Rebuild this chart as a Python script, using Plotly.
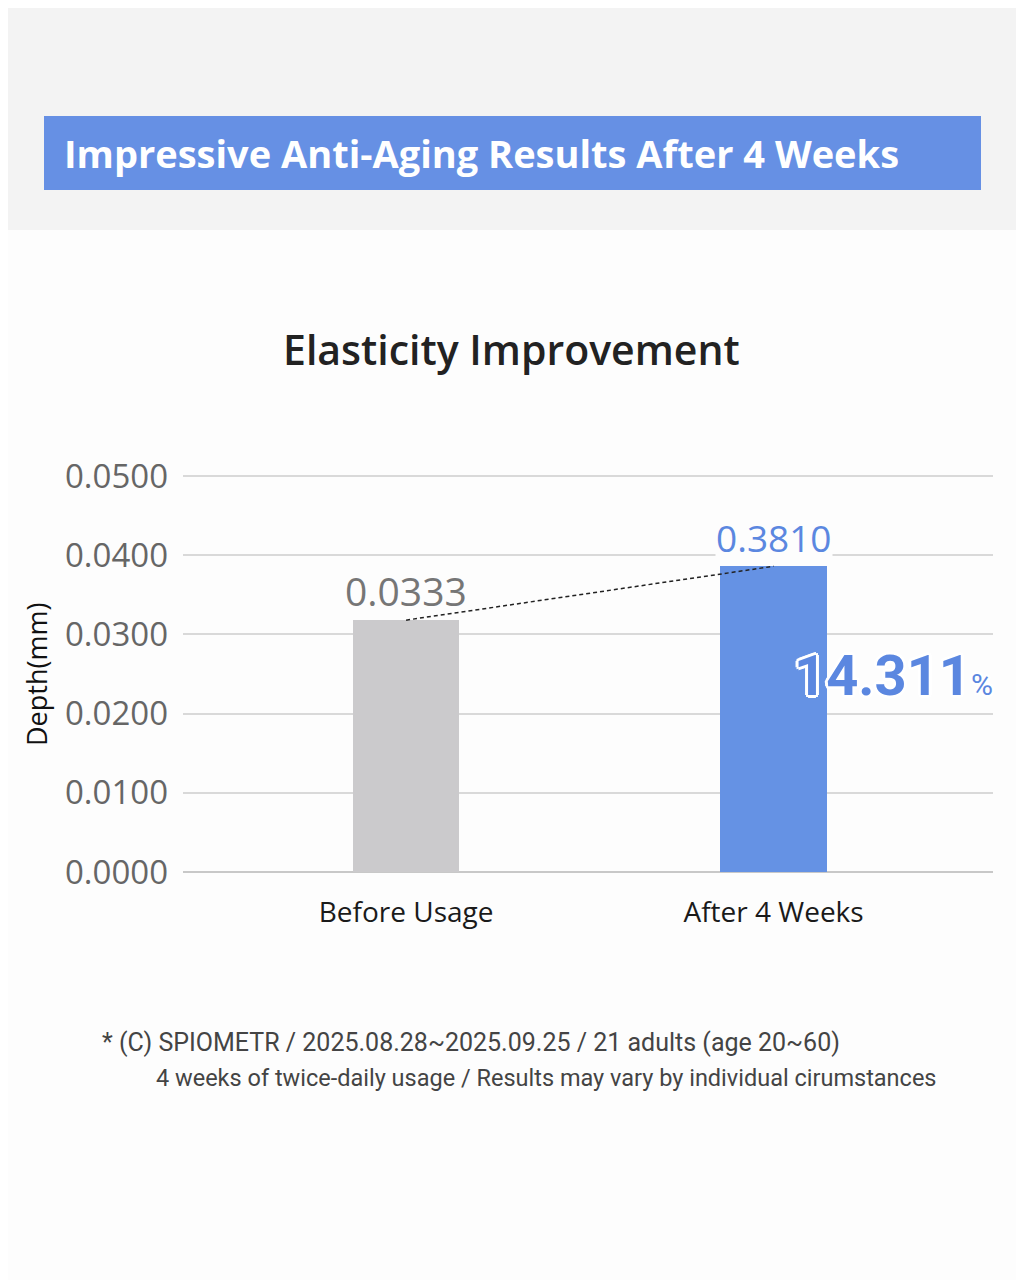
import plotly.graph_objects as go

# ---- data ----
categories = ["Before Usage", "After 4 Weeks"]
depth_values = [0.0318, 0.0386]
value_labels = ["0.0333", "0.3810"]
improvement_label = "14.311"
y_ticks = [0.0, 0.01, 0.02, 0.03, 0.04, 0.05]
y_tick_text = ["0.0000", "0.0100", "0.0200", "0.0300", "0.0400", "0.0500"]

W, H = 1024, 1280
OFF = 8  # page body margin
def px(x):
    return (x - OFF) / W
def py(y):
    return 1 - (y - OFF) / H

x_pos = [0, 1]
bar_colors = ["#cbcacc", "#6592e4"]
label_colors = ["#767676", "#5b87e0"]

fig = go.Figure()
fig.add_trace(go.Bar(
    x=x_pos, y=depth_values, width=0.29,
    marker=dict(color=bar_colors, line=dict(width=0)),
    hoverinfo="skip", showlegend=False,
))
fig.add_trace(go.Scatter(
    x=x_pos, y=depth_values, mode="lines",
    line=dict(color="#222222", width=1.5, dash="4px,3px"),
    hoverinfo="skip", showlegend=False,
))

annotations = []
for i in range(2):
    annotations.append(dict(
        x=x_pos[i], y=depth_values[i], xref="x", yref="y",
        text=value_labels[i], showarrow=False, yanchor="bottom",
        yshift=2,
        font=dict(family="Open Sans", size=39 if i == 0 else 37, color=label_colors[i]),
        bgcolor="rgba(253,253,253,1)" if i == 1 else "rgba(0,0,0,0)",
        borderpad=0,
    ))

# big improvement label
annotations.append(dict(
    x=px(893), y=py(676), xref="paper", yref="paper",
    text=f"<b>{improvement_label}</b><span style='font-size:30px'>%</span>",
    showarrow=False, xanchor="center", yanchor="middle",
    font=dict(family="Roboto", size=56, color="#5b87e0",
              shadow="2px 2px 0 #fff, -2px -2px 0 #fff, 2px -2px 0 #fff, -2px 2px 0 #fff, 0 3px 0 #fff, 0 -3px 0 #fff, 3px 0 0 #fff, -3px 0 0 #fff"),
))

# header title
annotations.append(dict(
    x=px(62), y=py(153), xref="paper", yref="paper",
    text="Impressive Anti-Aging Results After 4 Weeks",
    showarrow=False, xanchor="left", yanchor="middle",
    font=dict(family="Open Sans", size=38, color="#ffffff", weight=700),
))
# chart title
annotations.append(dict(
    x=px(511), y=py(349), xref="paper", yref="paper",
    text="Elasticity Improvement",
    showarrow=False, xanchor="center", yanchor="middle",
    font=dict(family="Open Sans", size=41, color="#222222", weight=600),
))
# y axis title
annotations.append(dict(
    x=px(36), y=py(675), xref="paper", yref="paper",
    text="Depth(mm)", textangle=-90,
    showarrow=False, xanchor="center", yanchor="middle",
    font=dict(family="Open Sans", size=27, color="#111111"),
))
# footnotes
annotations.append(dict(
    x=px(100), y=py(1042), xref="paper", yref="paper",
    text="* (C) SPIOMETR / 2025.08.28~2025.09.25 / 21 adults (age 20~60)",
    showarrow=False, xanchor="left", yanchor="middle",
    font=dict(family="Roboto", size=25, color="#444444"),
))
annotations.append(dict(
    x=px(154), y=py(1078), xref="paper", yref="paper",
    text="4 weeks of twice-daily usage / Results may vary by individual cirumstances",
    showarrow=False, xanchor="left", yanchor="middle",
    font=dict(family="Roboto", size=23.5, color="#444444"),
))

shapes = [
    dict(type="rect", xref="paper", yref="paper", x0=-0.01, x1=1.01, y0=py(230), y1=1.01,
         fillcolor="#f3f3f3", line=dict(width=0), layer="below"),
    dict(type="rect", xref="paper", yref="paper", x0=px(44), x1=px(981), y0=py(190), y1=py(116),
         fillcolor="#6690e4", line=dict(width=0), layer="below"),
]

Y_TOP = 0.0505
px_per_unit = (872 - 476) / 0.05

fig.update_layout(
    width=W, height=H,
    margin=dict(l=0, r=0, t=0, b=0),
    paper_bgcolor="#fdfdfd", plot_bgcolor="rgba(0,0,0,0)",
    annotations=annotations, shapes=shapes,
    bargap=0,
    xaxis=dict(
        domain=[px(183), px(993)],
        range=[-0.607, 1.597],
        tickmode="array", tickvals=x_pos, ticktext=categories,
        showgrid=False, zeroline=False, showline=False, ticks="",
        tickfont=dict(family="Open Sans", size=28, color="#1a1a1a", weight=500),
        ticklabelstandoff=21,
        automargin=False, fixedrange=True,
    ),
    yaxis=dict(
        domain=[py(872), py(872 - Y_TOP * px_per_unit)],
        range=[0, Y_TOP],
        tickmode="array", tickvals=y_ticks, ticktext=y_tick_text,
        showgrid=True, gridcolor="#d9d9d9", gridwidth=1.5,
        zeroline=True, zerolinecolor="#c8c8c8", zerolinewidth=2,
        showline=False, ticks="",
        tickfont=dict(family="Open Sans", size=33, color="#666666"),
        ticklabelstandoff=14,
        automargin=False, fixedrange=True,
    ),
)

fig.write_html("out.html")
